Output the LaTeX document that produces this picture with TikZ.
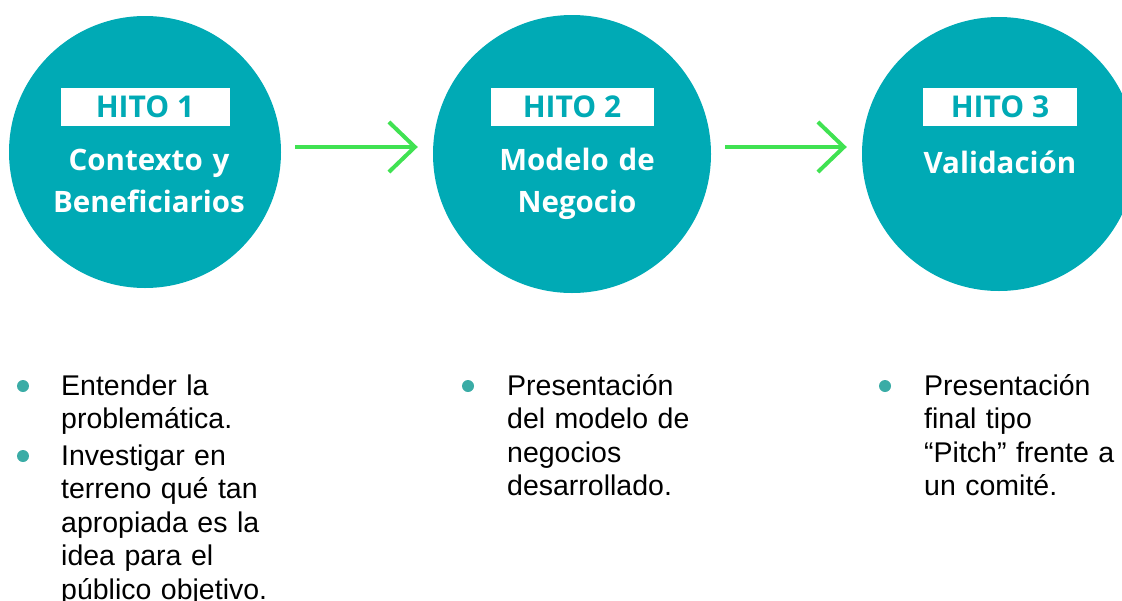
\documentclass[tikz,border=0pt]{standalone}
\usepackage{fontspec}
\setmainfont{Liberation Sans}
\newfontfamily\titlefont{Open Sans}
\usetikzlibrary{arrows.meta,positioning}
\definecolor{hitoteal}{RGB}{0,170,181}
\definecolor{flechaverde}{RGB}{64,226,82}
\definecolor{vinetateal}{RGB}{58,172,166}

\tikzset{
  hito/.style={circle, fill=hitoteal, inner sep=0pt},
  etiqueta/.style={fill=white, inner sep=0pt, minimum height=38pt, text=hitoteal,
    font=\titlefont\bfseries\fontsize{30}{32}\selectfont},
  titulo/.style={anchor=base, text=white, text width=280pt, align=center, inner sep=0pt,
    font=\titlefont\bfseries\fontsize{29.5}{42}\selectfont},
  flecha/.style={draw=flechaverde, line width=4pt, -{Straight Barb[length=26pt,width=50pt]},
    shorten <=14pt, shorten >=15pt},
  vineta/.style={circle, fill=vinetateal, inner sep=0pt, minimum size=12pt},
  texto/.style={anchor=base west, text width=230pt, align=left, inner sep=0pt,
    font=\fontsize{28.5}{33.5}\selectfont}
}

\begin{document}
\begin{tikzpicture}[x=1pt, y=-1pt]
    % Frame of the page
    \useasboundingbox (0,0) rectangle (1122,600);
    \clip (0,0) rectangle (1122,600);

    % Milestones
    \node[hito, minimum size=272pt] (hito1) at (145,152) {};
    \node[hito, minimum size=278pt] (hito2) at (572,154) {};
    \node[hito, minimum size=274pt] (hito3) at (999,154) {};

    % Labels
    \node[etiqueta, minimum width=169pt] (etq1) at (145,107) {HITO 1};
    \node[etiqueta, minimum width=163pt] (etq2) at (572,107) {HITO 2};
    \node[etiqueta, minimum width=154pt] (etq3) at (1000,107) {HITO 3};

    \node[titulo] (tit1) at (149,170) {Contexto y\\Beneficiarios};
    \node[titulo] (tit2) at (577,170) {Modelo de\\Negocio};
    \node[titulo] (tit3) at (1000,173) {Validación};

    % Arrows
    \draw[flecha] ([yshift=5pt]hito1.east) -- ([yshift=7pt]hito2.west);
    \draw[flecha] ([yshift=7pt]hito2.east) -- ([yshift=7pt]hito3.west);

    % Bullet lists
    \node[vineta] (v1a) at (23,386) {};
    \node[texto] (t1a) at (61,395) {Entender la\\problemática.};
    \node[vineta] (v1b) at (23,456) {};
    \node[texto] (t1b) at (61,465) {Investigar en\\terreno qué tan\\apropiada es la\\idea para el\\público objetivo.};

    \node[vineta] (v2) at (468,386) {};
    \node[texto] (t2) at (507,395) {Presentación\\del modelo de\\negocios\\desarrollado.};

    \node[vineta] (v3) at (885,386) {};
    \node[texto] (t3) at (924,395) {Presentación\\final tipo\\“Pitch” frente a\\un comité.};
\end{tikzpicture}
\end{document}
